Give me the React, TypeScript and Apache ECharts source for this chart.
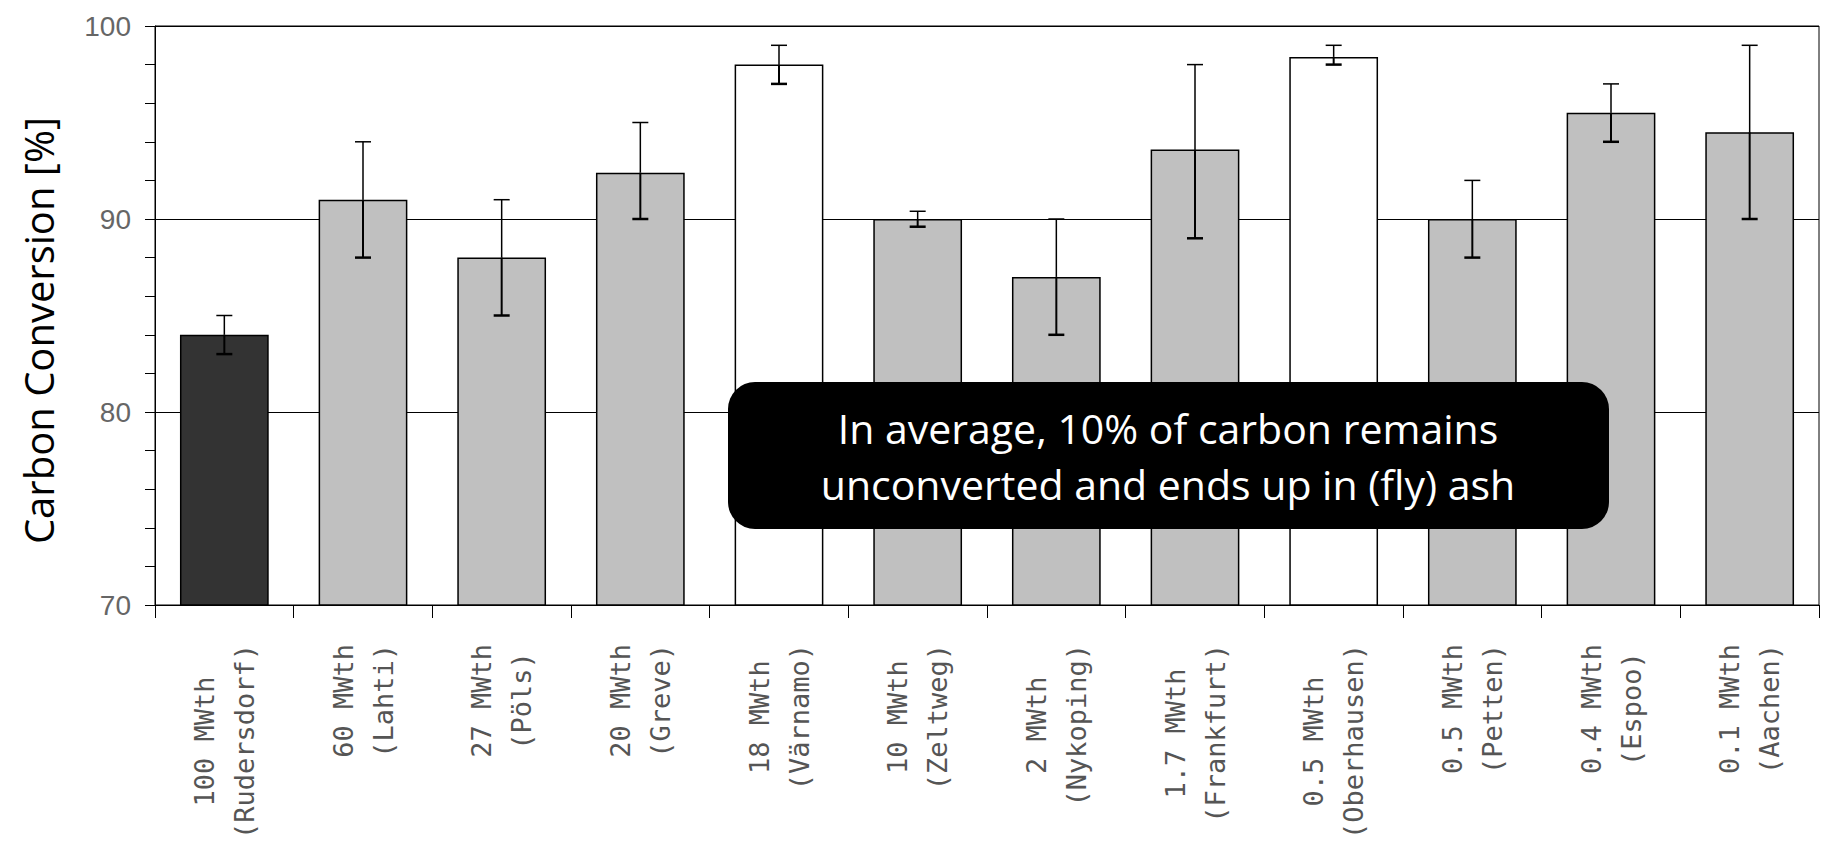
import React, { useEffect, useRef } from 'react';
import * as echarts from 'echarts';

const capacities = ['100 MWth', '60 MWth', '27 MWth', '20 MWth', '18 MWth', '10 MWth', '2 MWth', '1.7 MWth', '0.5 MWth', '0.5 MWth', '0.4 MWth', '0.1 MWth'];
const sites = ['(Rudersdorf)', '(Lahti)', '(Pöls)', '(Greve)', '(Värnamo)', '(Zeltweg)', '(Nykoping)', '(Frankfurt)', '(Oberhausen)', '(Petten)', '(Espoo)', '(Aachen)'];
const conversion = [84, 91, 88, 92.4, 98, 90, 87, 93.6, 98.4, 90, 95.5, 94.5];
const errLow = [83, 88, 85, 90, 97, 89.6, 84, 89, 98, 88, 94, 90];
const errHigh = [85, 94, 91, 95, 99, 90.4, 90, 98, 99, 92, 97, 99];
const barFills = ['#333333', '#c0c0c0', '#c0c0c0', '#c0c0c0', '#ffffff', '#c0c0c0', '#c0c0c0', '#c0c0c0', '#ffffff', '#c0c0c0', '#c0c0c0', '#c0c0c0'];
const yMin = 70;
const yMax = 100;
const yStep = 10;
const yTitle = 'Carbon Conversion [%]';
const noteLines = ['In average, 10% of carbon remains', 'unconverted and ends up in (fly) ash'];

const LABEL_FONT = 'DejaVu Sans Mono';
const LABEL_SIZE = 27;
const LABEL_COLOR = '#555';
const LABEL_MARGIN = 39;
const LABEL_LINE_GAP = 40;

function measure(text: string): number {
  try {
    const t = new (echarts as any).graphic.Text({ style: { text, fontSize: LABEL_SIZE, fontFamily: LABEL_FONT } });
    const w = t.getBoundingRect().width;
    if (w > 0) return w;
  } catch (e) {
    /* fall through */
  }
  return text.length * LABEL_SIZE * 0.602;
}

export default function App() {
  const ref = useRef<HTMLDivElement>(null);
  useEffect(() => {
    if (!ref.current) return;
    const chart = echarts.init(ref.current, null, { renderer: 'svg' });
    const categories = capacities.map((c, i) => c + ' ' + sites[i]);
    const textStyleBase = {
      fontSize: LABEL_SIZE,
      fontFamily: LABEL_FONT,
      fill: LABEL_COLOR,
      align: 'center',
      verticalAlign: 'middle',
      textAlign: 'center',
      textVerticalAlign: 'middle',
    };
    const option: any = {
      animation: false,
      backgroundColor: '#ffffff',
      grid: { left: 155, right: 2, top: 26, bottom: 237, show: true, borderColor: '#000', borderWidth: 1, backgroundColor: 'transparent' },
      xAxis: {
        type: 'category',
        data: categories,
        axisLine: { lineStyle: { color: '#000', width: 1 } },
        axisTick: { show: true, alignWithLabel: false, interval: 0, length: 13, lineStyle: { color: '#000', width: 1 } },
        axisLabel: { show: false },
      },
      yAxis: {
        type: 'value',
        min: yMin,
        max: yMax,
        interval: yStep,
        name: yTitle,
        nameLocation: 'middle',
        nameRotate: 90,
        nameGap: 97,
        nameTextStyle: { fontFamily: 'Open Sans', fontSize: 40, color: '#000', padding: [0, 30, 0, 0] },
        axisLine: { show: true, lineStyle: { color: '#000', width: 1 } },
        axisTick: { show: true, length: 10, lineStyle: { color: '#000', width: 1 } },
        minorTick: { show: true, splitNumber: 5, length: 10, lineStyle: { color: '#000', width: 1 } },
        splitLine: { show: true, lineStyle: { color: '#000', width: 1 } },
        axisLabel: { fontFamily: 'Liberation Sans', fontSize: 28, color: '#666', margin: 24 },
      },
      series: [
        {
          type: 'bar',
          barWidth: '64%',
          data: conversion.map((v, i) => ({
            value: v,
            itemStyle: { color: barFills[i], borderColor: '#000', borderWidth: 1.5 },
          })),
          z: 2,
        },
        {
          type: 'custom',
          z: 3,
          silent: true,
          data: conversion.map((v, i) => [i, errLow[i], errHigh[i], v]),
          renderItem: (params: any, api: any) => {
            const x = api.value(0);
            const pLo = api.coord([x, api.value(1)]);
            const pHi = api.coord([x, api.value(2)]);
            const pMid = api.coord([x, api.value(3)]);
            const hw = 8;
            return {
              type: 'group',
              children: [
                { type: 'line', shape: { x1: pHi[0], y1: pHi[1], x2: pMid[0], y2: pMid[1] }, style: { stroke: '#000', lineWidth: 1.5 } },
                { type: 'line', shape: { x1: pMid[0], y1: pMid[1], x2: pLo[0], y2: pLo[1] }, style: { stroke: '#000', lineWidth: 2 } },
                { type: 'line', shape: { x1: pHi[0] - hw, y1: pHi[1], x2: pHi[0] + hw, y2: pHi[1] }, style: { stroke: '#000', lineWidth: 1.5 } },
                { type: 'line', shape: { x1: pLo[0] - hw, y1: pLo[1], x2: pLo[0] + hw, y2: pLo[1] }, style: { stroke: '#000', lineWidth: 2.5 } },
              ],
            };
          },
        },
        {
          // category labels: two centred lines, rotated, block end aligned to the axis
          type: 'custom',
          z: 4,
          silent: true,
          clip: false,
          data: capacities.map((c, i) => [i, yMin]),
          renderItem: (params: any, api: any) => {
            const i = api.value(0);
            const p = api.coord([i, api.value(1)]);
            const w = Math.max(measure(capacities[i]), measure(sites[i]));
            const cy = p[1] + LABEL_MARGIN + w / 2;
            return {
              type: 'group',
              children: [
                { type: 'text', x: p[0] - LABEL_LINE_GAP / 2, y: cy, rotation: Math.PI / 2, style: { ...textStyleBase, text: capacities[i] } },
                { type: 'text', x: p[0] + LABEL_LINE_GAP / 2, y: cy, rotation: Math.PI / 2, style: { ...textStyleBase, text: sites[i] } },
              ],
            };
          },
        },
      ],
      graphic: [
        {
          type: 'rect',
          left: 728,
          top: 382,
          z: 100,
          shape: { width: 881, height: 147, r: 27 },
          style: { fill: '#000' },
        },
        {
          type: 'text',
          x: 1168,
          y: 456,
          z: 101,
          style: {
            text: noteLines.join('\n'),
            fill: '#fff',
            fontFamily: 'Open Sans',
            fontSize: 41,
            lineHeight: 56,
            align: 'center',
            verticalAlign: 'middle',
            textAlign: 'center',
            textVerticalAlign: 'middle',
          },
        },
      ],
    };
    chart.setOption(option);
    return () => chart.dispose();
  }, []);
  return <div ref={ref} style={{ position: 'fixed', left: 0, top: 0, width: '1821px', height: '842px' }} />;
}
